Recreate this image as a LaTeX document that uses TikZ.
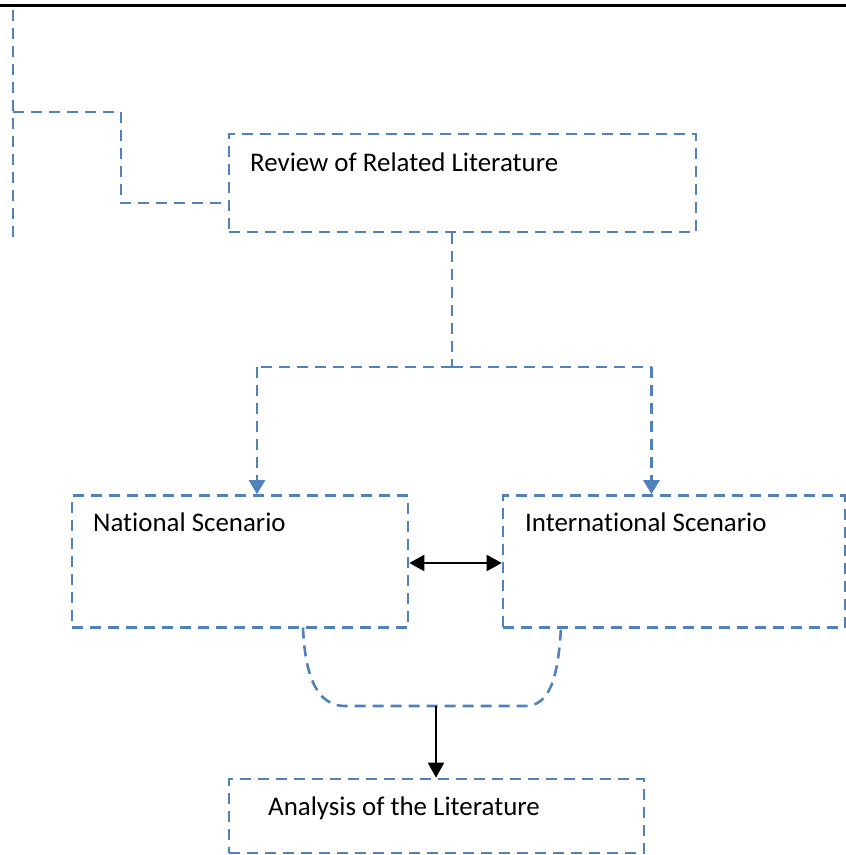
\documentclass[tikz,border=0pt]{standalone}
\usepackage{fontspec}
\setmainfont{Carlito}[Ligatures={NoCommon}]
\usetikzlibrary{arrows.meta}
\definecolor{accent}{RGB}{79,129,189}
\tikzset{
  dashline/.style={draw=accent, line width=2.6pt, dash pattern=on 11pt off 7pt},
  box/.style={dashline, rectangle, inner sep=0pt},
  lbl/.style={anchor=base west, inner sep=0pt, font=\fontsize{26.9pt}{32pt}\selectfont},
  bluearrow/.style={dashline, -{Triangle[length=14pt,width=16pt,fill=accent]}},
  blackarrow/.style={draw=black, line width=2pt},
}
\begin{document}
\begin{tikzpicture}[x=1pt,y=-1pt]
\useasboundingbox (0,0) rectangle (846,855);
% top rule
\draw[line width=3pt] (0,5) -- (846,5);
% boxes
\node[box, minimum width=467pt, minimum height=98pt] (review) at (462.5,183) {};
\node[box, minimum width=336pt, minimum height=132pt] (national) at (240,561.5) {};
\node[box, minimum width=342pt, minimum height=132pt] (intl) at (674,561.5) {};
\node[box, minimum width=415pt, minimum height=74pt] (analysis) at (436.5,816) {};
% labels
\node[lbl] (reviewtxt) at (250,171) {Review of Related Literature};
\node[lbl] (nationaltxt) at (93,531) {National Scenario};
\node[lbl] (intltxt) at (525,531) {International Scenario};
\node[lbl] (analysistxt) at (268,815) {Analysis of the Literature};
% top-left bracket
\coordinate (tl) at (13,10);
\coordinate (bl) at (13,237);
\coordinate (k1) at (13,112);
\coordinate (k2) at (121,112);
\coordinate (k3) at (121,203);
\draw[dashline] (tl) -- (bl);
\draw[dashline] (k1) -- (k2) -- (k3) -- (k3 -| review.west);
% split connector
\coordinate (split) at (452,367);
\coordinate (lb) at (257,367);
\coordinate (rb) at (651.5,367);
\draw[dashline] (review.south -| split) -- (split);
\draw[dashline] (split) -- (lb);
\draw[dashline] (split) -- (rb);
\draw[bluearrow] (lb) -- (lb |- national.north);
\draw[bluearrow] (rb) -- (rb |- intl.north);
% double arrow
\draw[blackarrow, {Triangle[length=15pt,width=16pt]}-{Triangle[length=15pt,width=16pt]}] (national.east |- 0,563) -- (intl.west |- 0,563);
% merge curve
\coordinate (cl) at (303,627.5);
\coordinate (cr) at (561,627.5);
\coordinate (ml) at (345,706);
\coordinate (mr) at (525,706);
\coordinate (mid) at (436,706);
\draw[dashline] (cl) .. controls (305,678) and (318,706) .. (ml) -- (mr) .. controls (549,706) and (558,680) .. (cr);
\draw[blackarrow, -{Triangle[length=15pt,width=16pt]}] (mid) -- (mid |- analysis.north);
\end{tikzpicture}
\end{document}
